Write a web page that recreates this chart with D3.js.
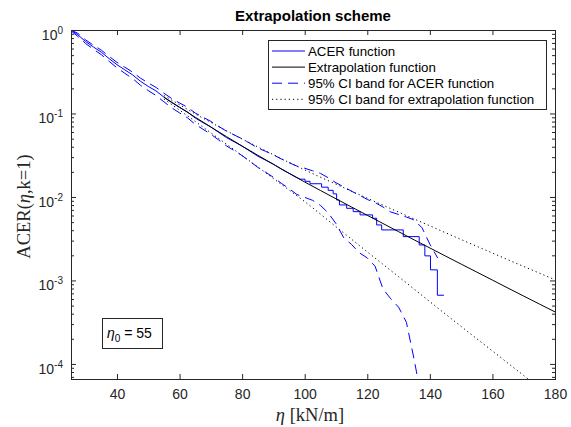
<!DOCTYPE html>
<html>
<head>
<meta charset="utf-8">
<script src="https://cdn.jsdelivr.net/npm/d3@7"></script>
<style>
  body { margin: 0; background: #fff; }
  svg { display: block; font-family: "Liberation Sans", Arial, Helvetica, sans-serif; }
</style>
</head>
<body>
<svg id="chart" width="571" height="427"></svg>
<script>
// ACER function, smooth part (level eta, ACER value)
const acerEta = [25.3, 27.5, 30, 32.5, 35, 37.5, 40, 42.5, 45, 47.5, 50, 52.5, 55, 57.5, 60, 62.5,
  65, 67.5, 70, 72.5, 75, 77.5, 80, 82.5, 85, 87.5, 90, 92.5, 95, 97.5, 98.5];
const acerVal = [1, 0.875, 0.726, 0.625, 0.542, 0.454, 0.384, 0.333, 0.290, 0.243, 0.211, 0.186,
  0.157, 0.135, 0.118, 0.1045, 0.0883, 0.0778, 0.0689, 0.0594, 0.0514, 0.0457, 0.0406, 0.0354,
  0.0308, 0.0276, 0.0247, 0.0216, 0.0192, 0.0171, 0.01633];

// ACER function, sparse tail (piecewise constant between levels)
const acerTailEta = [98.5, 100.1, 101.7, 105.4, 107.5, 109.1, 110.2, 111.1, 113.4, 115.5, 117.7,
  121.7, 123.0, 124.6, 131.5, 136.6, 138.4, 140.2, 142.4, 144.5];
const acerTailVal = [0.01633, 0.01540, 0.01440, 0.01310, 0.01200, 0.01090, 0.00920, 0.00802,
  0.00731, 0.00667, 0.00610, 0.00556, 0.00462, 0.00403, 0.00335, 0.00266, 0.00197, 0.00134,
  0.000665, 0.000665];

// 95% confidence band of the ACER function
const ciEta = [25.3, 27.5, 30, 32.5, 35, 37.5, 40, 42.5, 45, 47.5, 50, 52.5, 55, 57.5, 60, 62.5,
  65, 67.5, 70, 72.5, 75, 77.5, 80, 82.5, 85, 87.5, 90, 92.5, 95, 97.5,
  100, 102.5, 105, 107.5, 110, 112.5, 115, 117.5, 120, 122.5, 125, 127.5, 130, 132.5, 135,
  137.5, 140, 142.5];
const ciUpper = [1, 0.912, 0.760, 0.658, 0.573, 0.482, 0.410, 0.358, 0.313, 0.265, 0.232, 0.205,
  0.175, 0.151, 0.1337, 0.1189, 0.1014, 0.0902, 0.0805, 0.0701, 0.0614, 0.0552, 0.0497, 0.0439,
  0.0386, 0.0352, 0.0320, 0.0285, 0.0258, 0.0234,
  0.0221, 0.0206, 0.0192, 0.0170, 0.0148, 0.0132, 0.0117, 0.0105, 0.00933, 0.00855, 0.00759,
  0.00661, 0.00617, 0.00575, 0.00530, 0.00427, 0.00272, 0.00186];
const ciLower = [0.977, 0.836, 0.687, 0.587, 0.506, 0.421, 0.352, 0.303, 0.262, 0.218, 0.188,
  0.164, 0.138, 0.1167, 0.1016, 0.0889, 0.0743, 0.0647, 0.0565, 0.0481, 0.0409, 0.0358, 0.0313,
  0.0267, 0.0226, 0.0198, 0.0172, 0.0146, 0.0126, 0.0107,
  0.00989, 0.00912, 0.00794, 0.00646, 0.00479, 0.00324, 0.00269, 0.00214, 0.00186, 0.00148,
  0.000794, 0.000603, 0.000479, 0.000316, 0.000112, 0.0000355, null, null];

// Fitted extrapolation function from eta0 = 55 and its 95% band
const extEta = [55, 60, 65, 70, 75, 80, 85, 90, 95, 100, 105, 110, 115, 120, 125, 130, 135, 140,
  145, 150, 155, 160, 165, 170, 175, 180];
const extVal = [0.1567, 0.1189, 0.0902, 0.0689, 0.0528, 0.0407, 0.0316, 0.0246, 0.0192, 0.0151,
  0.01197, 0.00951, 0.00757, 0.00603, 0.00481, 0.00384, 0.00306, 0.00245, 0.00196, 0.00157,
  0.00126, 0.00101, 0.000809, 0.000650, 0.000522, 0.000420];
const extCiEta = [55, 60, 65, 70, 75, 80, 85, 90, 95, 100, 110, 120, 130, 140, 150, 160, 170, 180];
const extCiUpper = [0.164, 0.1274, 0.0989, 0.0782, 0.0621, 0.0495, 0.0398, 0.0321, 0.0259, 0.0211,
  0.01422, 0.00966, 0.00659, 0.00451, 0.00309, 0.00213, 0.00147, 0.00102];
const extCiLower = [0.1496, 0.1096, 0.0804, 0.0586, 0.0430, 0.0313, 0.0229, 0.0166, 0.01213,
  0.00879, 0.00440, 0.00220, 0.00111, 0.000557, 0.000281, 0.000143, 0.0000726, 0.0000370];

// Axis ticks and labels
const xTicks = [40, 60, 80, 100, 120, 140, 160, 180];
const yTickExp = [0, -1, -2, -3, -4];
const legendLabels = ["ACER function", "Extrapolation function",
  "95% CI band for ACER function", "95% CI band for extrapolation function"];
const eta0Label = "55";

const svg = d3.select("#chart");
const m = { left: 71, right: 555, top: 30, bottom: 379 };
const axisColor = "#262626";
const sans = "'Liberation Sans', Arial, Helvetica, sans-serif";
const serif = "'Liberation Serif', 'Times New Roman', serif";

const x = d3.scaleLinear().domain([25.3, 180]).range([m.left, m.right]);
const y = d3.scaleLog().domain([6.6e-5, 1]).range([m.bottom, m.top]);

svg.append("rect").attr("width", 571).attr("height", 427).attr("fill", "#fff");

// clip region for all curves
svg.append("defs").append("clipPath").attr("id", "plotClip")
  .append("rect").attr("x", m.left).attr("y", m.top)
  .attr("width", m.right - m.left).attr("height", m.bottom - m.top);

const plot = svg.append("g").attr("clip-path", "url(#plotClip)");

const zip = (xs, ys) => xs.map((e, i) => ({ e, v: ys[i] }));
const lineLin = d3.line().defined(d => d.v != null).x(d => x(d.e)).y(d => y(d.v));
const lineSmooth = d3.line().x(d => x(d.e)).y(d => y(d.v)).curve(d3.curveMonotoneX);
const lineStep = d3.line().x(d => x(d.e)).y(d => y(d.v)).curve(d3.curveStepAfter);

const styles = {
  acer: { stroke: "#0000ff", width: 1, dash: null },
  ext: { stroke: "#000000", width: 1, dash: null },
  ci: { stroke: "#0000ff", width: 1, dash: "10,6" },
  extCi: { stroke: "#000000", width: 1, dash: "1.2,3" }
};

function drawPath(gen, data, st) {
  plot.append("path").datum(data).attr("d", gen)
    .attr("fill", "none").attr("stroke", st.stroke).attr("stroke-width", st.width)
    .attr("stroke-dasharray", st.dash);
}

// extrapolation band (dotted)
drawPath(lineSmooth, zip(extCiEta, extCiUpper), styles.extCi);
drawPath(lineSmooth, zip(extCiEta, extCiLower), styles.extCi);
// ACER band (dashed)
drawPath(lineLin, zip(ciEta, ciUpper), styles.ci);
drawPath(lineLin, zip(ciEta, ciLower), styles.ci);
// ACER function
drawPath(lineLin, zip(acerEta, acerVal), styles.acer);
drawPath(lineStep, zip(acerTailEta, acerTailVal), styles.acer);
// extrapolation function
drawPath(lineSmooth, zip(extEta, extVal), styles.ext);

// axes
const yMajor = yTickExp.map(k => Math.pow(10, k));
const yMinor = [];
for (let k = -5; k < 0; k++) for (let j = 2; j <= 9; j++) {
  const v = j * Math.pow(10, k);
  if (v >= y.domain()[0] && v <= 1) yMinor.push(v);
}

function styleAxis(g) {
  g.select(".domain").remove();
  g.selectAll(".tick line").attr("stroke", axisColor);
  g.selectAll(".tick text").attr("fill", axisColor).attr("font-size", 14)
    .style("font-family", sans);
}

svg.append("g").attr("transform", `translate(0,${m.bottom})`)
  .call(d3.axisBottom(x).tickValues(xTicks).tickSizeInner(-5).tickSizeOuter(0).tickPadding(10))
  .call(styleAxis);
svg.append("g").attr("transform", `translate(0,${m.top})`)
  .call(d3.axisTop(x).tickValues(xTicks).tickSizeInner(-5).tickSizeOuter(0).tickFormat(""))
  .call(styleAxis);

const gy = svg.append("g").attr("transform", `translate(${m.left},0)`)
  .call(d3.axisLeft(y).tickValues(yMajor).tickSizeInner(-5).tickSizeOuter(0).tickPadding(8)
    .tickFormat(() => "10"))
  .call(styleAxis);
gy.selectAll(".tick text").attr("dy", "0.66em").each(function (d) {
  const t = d3.select(this);
  const e = Math.round(Math.log10(d));
  t.text(null);
  t.append("tspan").text("10");
  t.append("tspan").attr("dy", "-0.6em").attr("font-size", 10).text(e === 0 ? "0" : "-" + Math.abs(e));
});
svg.append("g").attr("transform", `translate(${m.left},0)`)
  .call(d3.axisLeft(y).tickValues(yMinor).tickSizeInner(-3).tickSizeOuter(0).tickFormat(""))
  .call(styleAxis);
svg.append("g").attr("transform", `translate(${m.right},0)`)
  .call(d3.axisRight(y).tickValues(yMajor).tickSizeInner(-5).tickSizeOuter(0).tickFormat(""))
  .call(styleAxis);
svg.append("g").attr("transform", `translate(${m.right},0)`)
  .call(d3.axisRight(y).tickValues(yMinor).tickSizeInner(-3).tickSizeOuter(0).tickFormat(""))
  .call(styleAxis);

// axes box
svg.append("rect").attr("x", m.left + 0.5).attr("y", m.top + 0.5)
  .attr("width", m.right - m.left).attr("height", m.bottom - m.top)
  .attr("fill", "none").attr("stroke", axisColor).attr("stroke-width", 1);

// title
svg.append("text").attr("x", (m.left + m.right) / 2).attr("y", 21)
  .attr("text-anchor", "middle").attr("font-size", 15).attr("font-weight", "bold")
  .attr("fill", "#000").style("font-family", sans).text("Extrapolation scheme");

// axis labels
const xl = svg.append("text").attr("x", (m.left + m.right) / 2 - 3).attr("y", 421)
  .attr("text-anchor", "middle").attr("font-size", 18.5).style("font-family", serif).attr("fill", axisColor);
xl.append("tspan").attr("font-style", "italic").text("η");
xl.append("tspan").text(" [kN/m]");

const yl = svg.append("text").attr("transform", `translate(30,${(m.top + m.bottom) / 2 + 2}) rotate(-90)`)
  .attr("text-anchor", "middle").attr("font-size", 18.5).style("font-family", serif).attr("fill", axisColor);
yl.append("tspan").text("ACER(");
yl.append("tspan").attr("font-style", "italic").text("η");
yl.append("tspan").text(",k=1)");

// legend
const lg = svg.append("g");
lg.append("rect").attr("x", 268.5).attr("y", 40.5).attr("width", 278).attr("height", 69)
  .attr("fill", "#fff").attr("stroke", axisColor).attr("stroke-width", 1);
const legendStyles = [styles.acer, styles.ext, styles.ci, styles.extCi];
legendLabels.forEach((lab, i) => {
  const yy = 51 + i * 16.1;
  const st = legendStyles[i];
  lg.append("line").attr("x1", 272).attr("x2", 305).attr("y1", yy).attr("y2", yy)
    .attr("stroke", st.stroke).attr("stroke-width", st.width).attr("stroke-dasharray", st.dash);
  lg.append("text").attr("x", 308).attr("y", yy).attr("dy", "0.36em")
    .attr("font-size", 13.3).attr("fill", "#000").style("font-family", sans).text(lab);
});

// eta0 annotation
svg.append("rect").attr("x", 102.5).attr("y", 318.5).attr("width", 60).attr("height", 30)
  .attr("fill", "#fff").attr("stroke", axisColor).attr("stroke-width", 1);
const an = svg.append("text").attr("x", 107).attr("y", 338).attr("font-size", 14)
  .attr("fill", "#000").style("font-family", sans);
an.append("tspan").attr("font-style", "italic").text("η");
an.append("tspan").attr("dy", 4).attr("font-size", 10).text("0");
an.append("tspan").attr("dy", -4).text(" = " + eta0Label);
</script>
</body>
</html>
